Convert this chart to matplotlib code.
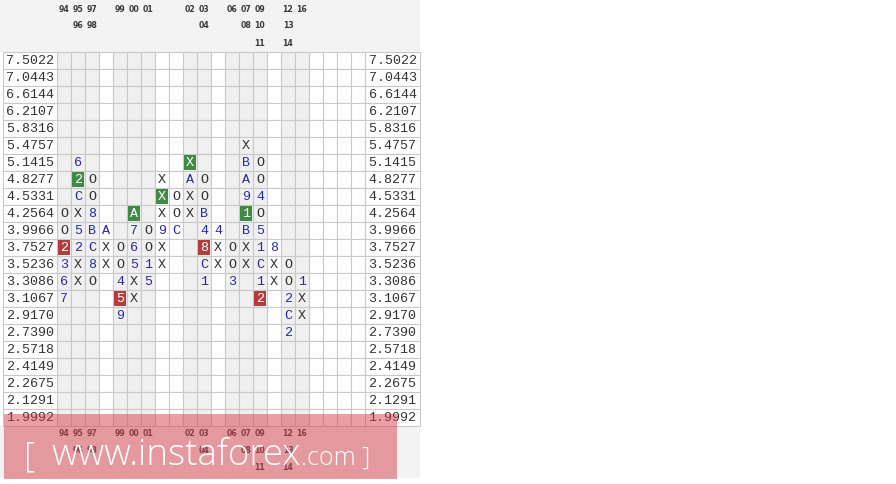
import matplotlib
matplotlib.use("Agg")
import matplotlib.pyplot as plt
from matplotlib.patches import Rectangle

# ---------------- data ----------------
prices = ["7.5022", "7.0443", "6.6144", "6.2107", "5.8316", "5.4757", "5.1415",
          "4.8277", "4.5331", "4.2564", "3.9966", "3.7527", "3.5236", "3.3086",
          "3.1067", "2.9170", "2.7390", "2.5718", "2.4149", "2.2675", "2.1291",
          "1.9992"]

# top price of each column and its boxes from top to bottom
col_top = ["4.2564", "5.1415", "4.8277", "3.9966", "3.7527", "4.2564", "3.9966",
           "4.8277", "4.5331", "5.1415", "4.8277", "3.9966", "3.7527", "5.4757",
           "5.1415", "3.7527", "3.5236", "3.3086"]
col_boxes = ["OO2367", "62CX52XX", "OO8BC8O", "AXX", "OO459", "A765XX", "OO15",
             "XXX9XX", "OOC", "XAXX", "OOB48C1", "4XX", "OO3",
             "XBA91BXX", "OO4O51C12", "8XX", "OO2C2", "1XX"]

green_cells = [(1, "4.8277"), (5, "4.2564"), (7, "4.5331"), (9, "5.1415"), (13, "4.2564")]
red_cells = [(0, "3.7527"), (4, "3.1067"), (10, "3.7527"), (14, "3.1067")]

year_row1 = {0: "94", 1: "95", 2: "97", 4: "99", 5: "00", 6: "01", 9: "02", 10: "03",
             12: "06", 13: "07", 14: "09", 16: "12", 17: "16"}
year_row2 = {1: "96", 2: "98", 10: "04", 13: "08", 14: "10", 16: "13"}
year_row3 = {14: "11", 16: "14"}

n_cols = 22

# ---------------- layout ----------------
W, H = 896, 484
CW, RH = 14.0, 17.0
X0, Y0 = 57.0, 52.0
GRID = "#c9c9c9"
SHADE = "#f0f0f0"
HEAD = "#f3f3f3"
MONO = "Liberation Mono"

fig = plt.figure(figsize=(W / 100, H / 100), dpi=100)
ax = fig.add_axes([0, 0, 1, 1])
ax.set_xlim(-X0 / CW, (W - X0) / CW)
ax.set_ylim((H - Y0) / RH, -Y0 / RH)
ax.axis("off")

n_rows = len(prices)
row_of = {p: i for i, p in enumerate(prices)}
shaded = set(year_row1) | set(year_row2) | set(year_row3)

# header / footer backgrounds
left_edge = -X0 / CW
hdr_w = 420 / CW
ax.add_patch(Rectangle((left_edge, -Y0 / RH), hdr_w, Y0 / RH, facecolor=HEAD, edgecolor="none", zorder=0))
ax.add_patch(Rectangle((left_edge, n_rows), hdr_w, 52 / RH, facecolor=HEAD, edgecolor="none", zorder=0))

# grid cells
for c in range(n_cols):
    fc = SHADE if c in shaded else "white"
    for r in range(n_rows):
        ax.add_patch(Rectangle((c, r), 1, 1, facecolor=fc, edgecolor=GRID, lw=0.8, zorder=1))

# label cells
lab_l0 = (3 - X0) / CW
lab_w = (X0 - 3) / CW
lab_r1 = (420 - X0) / CW
for r, p in enumerate(prices):
    ax.add_patch(Rectangle((lab_l0, r), lab_w, 1, facecolor="white", edgecolor=GRID, lw=0.8, zorder=1))
    ax.add_patch(Rectangle((n_cols, r), lab_r1 - n_cols, 1, facecolor="white", edgecolor=GRID, lw=0.8, zorder=1))
    ax.text(lab_l0 + lab_w / 2, r + 0.55, p, ha="center", va="center", family=MONO,
            fontsize=9.6, color="#333333", zorder=3)
    ax.text((n_cols + lab_r1) / 2, r + 0.55, p, ha="center", va="center", family=MONO,
            fontsize=9.6, color="#333333", zorder=3)

# highlight boxes
for cells, color in ((green_cells, "#3f8a45"), (red_cells, "#b43c3c")):
    for c, p in cells:
        ax.add_patch(Rectangle((c + 0.06, row_of[p] + 0.06), 0.88, 0.88, facecolor=color,
                               edgecolor="none", zorder=2))
hl = {(c, row_of[p]) for c, p in green_cells + red_cells}

# P&F symbols
for c, (top, boxes) in enumerate(zip(col_top, col_boxes)):
    r0 = row_of[top]
    for k, ch in enumerate(boxes):
        r = r0 + k
        if (c, r) in hl:
            col = "white"
        elif ch in "XO":
            col = "#333333"
        else:
            col = "#2a2aa6"
        ax.text(c + 0.5, r + 0.55, ch, ha="center", va="center", family=MONO,
                fontsize=9.6, color=col, zorder=3)

# year labels (top and bottom)
for ys in ((-2.5, -1.55, -0.5), (n_rows + 0.45, n_rows + 1.45, n_rows + 2.45)):
    for d, y in zip((year_row1, year_row2, year_row3), ys):
        for c, t in d.items():
            ax.text(c + 0.5, y, t, ha="center", va="center", fontsize=5.6,
                    family="DejaVu Sans", fontweight="bold", color="#3a3a3a", zorder=3)

# watermark
def px(x, y):
    return x / W, 1 - y / H

fig.patches.append(Rectangle((4 / W, 1 - 479 / H), (397 - 4) / W, (479 - 414) / H,
                             transform=fig.transFigure, facecolor=(0.84, 0.25, 0.3),
                             alpha=0.5, edgecolor="none", zorder=5))
fig.text(*px(24, 466), "[", fontsize=25, color="white", family="Open Sans",
         fontweight="light", va="baseline", ha="left", zorder=6)
main = fig.text(*px(51, 465), "www.instaforex", fontsize=26.5, color="white", family="Open Sans",
                fontweight="light", va="baseline", ha="left", zorder=6)
fig.canvas.draw()
bb = main.get_window_extent()
fig.text(bb.x1 / W, 1 - 465 / H, ".com ]", fontsize=18, color="white", family="Open Sans",
         fontweight="light", va="baseline", ha="left", zorder=6)

fig.savefig("out.png", dpi=100)
